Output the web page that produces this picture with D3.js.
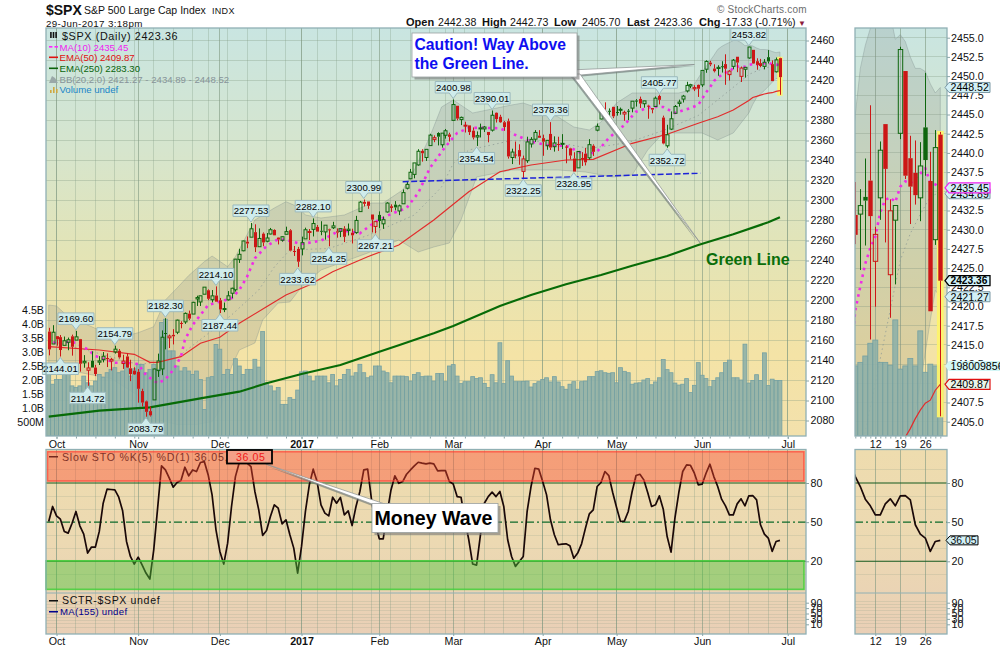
<!DOCTYPE html>
<html><head><meta charset="utf-8">
<script src="https://cdnjs.cloudflare.com/ajax/libs/d3/7.8.5/d3.min.js"></script>
<style>
html,body{margin:0;padding:0;background:#fff}
svg{display:block}
text{font-family:"Liberation Sans",Arial,sans-serif}
.axis text{font-size:10.7px;fill:#111}
.tick line{stroke:#8aa6a8}
</style></head><body><svg id="c" width="1000" height="650"></svg>
<script>
// session index: 0 = 3 Oct 2016, -2 = 29 Sep 2016, 186 = 29 Jun 2017
const firstIndex = -2;
const priorClose = 2171.37;
const openP = [2168.9,2156.51,2164.33,2163.37,2155.15,2158.22,2164.19,2160.39,2161.35,2137.67,2130.26,2139.68,2132.95,2138.31,2140.81,2142.51,2139.43,2148.5,2149.72,2136.97,2144.06,2132.23,2129.78,
2128.68,2109.43,2099.12,2089.36,2100.59,2129.92,2131.56,2167.49,2162.71,2165.64,2168.29,2177.53,2178.61,2186.85,2186.43,2201.56,2198.55,2206.27,2210.21,2200.76,2204.97,
2200.17,2191.12,2200.65,2207.26,2210.72,2241.13,2249.73,2258.83,2263.32,2268.35,2253.77,2266.81,2259.24,2266.5,2270.54,2262.93,2260.25,2266.23,2270.23,2249.5,2251.61,
2251.57,2261.6,2268.18,2271.14,2273.59,2269.72,2268.6,2271.14,2272.74,2269.14,2269.14,2271.9,2269.96,2267.78,2267.88,2288.88,2298.63,2299.02,2286.01,2274.02,
2285.59,2276.69,2288.54,2294.28,2295.87,2289.55,2296.7,2312.27,2321.72,2326.12,2335.58,2349.64,2343.01,2354.91,2361.11,2367.5,2355.73,2365.23,2366.08,
2380.13,2394.75,2380.92,2375.23,2375.12,2369.81,2363.49,2371.56,2371.56,2368.55,2370.34,2387.71,2383.71,2378.24,2379.32,2343,2345.97,2350.42,2329.11,2339.79,2356.54,2361.31,2364.82,
2362.34,2354.76,2366.59,2353.79,2356.59,2357.16,2353.92,2352.15,2341.98,2332.62,2342.53,2346.79,2342.69,2354.74,2370.33,2381.51,2388.98,2389.7,2393.68,
2388.5,2391.05,2386.5,2389.79,2392.37,2399.94,2401.58,2396.79,2394.84,2392.44,2393.98,2404.55,2382.95,2354.69,2371.37,2387.21,2397.04,2401.41,2409.54,2414.5,2411.67,2415.63,
2415.65,2431.28,2437.83,2431.92,2432.03,2434.27,2436.39,2425.88,2434.15,2443.75,2424.14,2431.24,2442.55,2450.66,2439.31,2437.4,2434.15,2443.32,2436.34,2428.7,2442.38];
const highP = [2172.67,2175.3,2164.41,2165.46,2163.95,2162.93,2165.86,2169.6,2161.56,2145.36,2138.19,2149.19,2135.61,2144.38,2148.44,2147.18,2142.63,2154.79,2151.44,2145.73,2147.13,2140.72,2133.25,
2131.45,2111.76,2099.86,2094.09,2132,2146.87,2170.1,2182.3,2165.92,2171.36,2180.84,2179.22,2188.06,2189.89,2198.7,2204.8,2204.72,2213.35,2211.14,2210.46,2214.1,
2202.6,2197.95,2209.42,2212.78,2241.63,2251.69,2259.8,2264.03,2277.53,2276.2,2272.12,2268.05,2267.47,2272.56,2271.23,2263.18,2263.36,2273.82,2271.31,2254.51,2253.58,
2263.88,2272.82,2271.5,2282.1,2275.49,2279.27,2275.32,2271.78,2278.68,2272.08,2272.01,2274.33,2276.96,2271.78,2284.63,2299.55,2300.99,2299.02,2286.01,2279.09,
2289.14,2283.97,2298.31,2296.18,2299.4,2295.91,2311.08,2319.23,2331.58,2337.58,2351.3,2351.31,2351.16,2366.71,2365.13,2368.26,2367.34,2371.54,2367.79,
2400.98,2394.75,2383.89,2378.8,2375.12,2373.09,2369.08,2376.86,2374.42,2368.55,2390.01,2388.1,2385.71,2379.55,2381.93,2351.81,2358.92,2356.22,2344.9,2363.78,2363.36,2370.42,2370.35,
2365.87,2360.53,2378.36,2364.16,2363.76,2366.37,2355.22,2352.72,2348.26,2349.14,2348.35,2352.63,2361.37,2356.18,2376.98,2392.48,2398.16,2392.1,2393.68,
2394.49,2392.93,2389.82,2391.43,2399.29,2401.36,2403.87,2399.74,2395.72,2392.44,2404.05,2405.77,2384.87,2375.74,2389.06,2395.46,2400.85,2405.58,2418.71,2416.68,2415.26,2415.99,
2430.06,2440.23,2439.55,2436.21,2435.28,2439.27,2446.2,2430.38,2441.49,2443.75,2433.95,2433.15,2453.82,2450.66,2442.23,2441.62,2441.4,2450.42,2440.15,2442.97,2442.73];
const lowP = [2145.2,2156.51,2154.77,2144.01,2155.15,2150.28,2144.85,2160.39,2128.84,2132.77,2114.72,2132.98,2124.43,2135.49,2138.15,2133.44,2130.09,2146.91,2141.93,2131.59,2132.52,2119.36,2125.53,
2097.85,2094,2083.79,2084,2100.59,2123.56,2125.35,2151.17,2152.49,2156.08,2166.38,2172.2,2176.65,2180.38,2186.43,2194.51,2194.51,2206.27,2200.36,2198.15,2198.81,
2187.44,2188.37,2199.97,2202.21,2208.93,2237.57,2249.23,2252.37,2263.32,2248.44,2253.77,2254.24,2258.21,2266.14,2265.15,2256.08,2258.84,2266.15,2249.11,2244.56,2233.62,
2245.13,2261.6,2260.45,2264.06,2268.9,2265.27,2260.83,2254.25,2271.51,2262.81,2263.35,2258.41,2265.01,2257.02,2266.68,2288.88,2294.08,2291.62,2268.04,2267.21,
2272.44,2271.65,2287.88,2288.57,2290.16,2285.38,2296.61,2311.1,2321.42,2322.17,2334.81,2338.87,2339.58,2354.91,2358.34,2355.09,2352.87,2361.87,2358.96,
2380.13,2380.17,2375.39,2367.98,2365.51,2361.01,2354.54,2363.04,2368.52,2358.18,2368.94,2377.94,2377.64,2369.66,2341.9,2336.45,2342.13,2335.74,2322.25,2337.63,2352.94,2358.58,2362.6,
2344.73,2350.72,2350.52,2348.9,2349.61,2351.5,2337.25,2341.18,2328.95,2332.51,2334.54,2335.05,2340.91,2344.51,2369.19,2381.15,2386.78,2382.68,2382.36,
2384.83,2385.82,2379.75,2380.35,2388.2,2393.92,2392.44,2392.79,2381.74,2387.19,2393.94,2396.05,2356.21,2352.72,2370.43,2386.92,2393.88,2397.99,2408.01,2412.2,2409.43,2403.59,
2413.54,2427.71,2434.32,2428.12,2424.75,2427.94,2415.7,2419.97,2431.28,2428.34,2418.53,2422.88,2441.79,2436.6,2430.74,2433.27,2431.11,2437.03,2419.38,2428.02,2405.7];
const closeP = [2151.13,2168.27,2161.2,2150.49,2159.73,2160.77,2153.74,2163.66,2136.73,2139.18,2132.55,2132.98,2126.5,2139.6,2144.29,2141.34,2141.16,2151.33,2143.16,2139.43,2133.04,2126.41,2126.15,
2111.72,2097.94,2088.66,2085.18,2131.52,2139.56,2163.26,2167.48,2164.45,2164.2,2180.39,2176.94,2187.12,2181.9,2198.18,2202.94,2204.72,2213.35,2201.72,2204.66,2198.81,
2191.08,2191.95,2204.71,2212.23,2241.35,2246.19,2259.53,2256.96,2271.72,2253.28,2262.03,2258.07,2262.53,2270.76,2265.18,2260.96,2263.79,2268.88,2249.92,2249.26,2238.83,
2257.83,2270.75,2269,2276.98,2268.9,2268.9,2275.32,2270.44,2274.64,2267.89,2271.89,2263.69,2271.31,2265.2,2280.07,2298.37,2296.68,2294.69,2280.9,2278.87,
2279.55,2280.85,2297.42,2292.56,2293.08,2294.67,2307.87,2316.1,2328.25,2337.58,2349.25,2347.22,2351.16,2365.38,2362.82,2363.81,2367.34,2369.75,2363.64,
2395.96,2381.92,2383.12,2375.31,2368.39,2362.98,2364.87,2372.6,2373.47,2365.45,2385.26,2381.38,2378.25,2373.47,2344.02,2348.45,2345.96,2343.98,2341.59,2358.57,2361.13,2368.06,2362.72,
2358.84,2360.16,2352.95,2357.49,2355.54,2357.16,2353.78,2344.93,2328.95,2349.01,2342.19,2338.17,2355.84,2348.69,2374.15,2388.61,2387.45,2388.77,2384.2,
2388.33,2391.17,2388.13,2389.52,2399.29,2399.38,2396.92,2399.63,2394.44,2390.9,2402.32,2400.67,2357.03,2365.72,2381.73,2394.02,2398.42,2404.39,2415.07,2415.82,2412.91,2411.8,
2430.06,2439.07,2436.1,2429.33,2433.14,2433.79,2431.77,2429.39,2440.35,2437.92,2432.46,2433.15,2453.46,2437.03,2435.61,2434.5,2438.3,2439.07,2419.38,2440.69,2423.36];
// volume in billions of shares
const volumeB = [2.20,1.85,2.02,2.02,2.30,2.50,1.79,1.73,1.79,2.14,1.90,1.79,1.96,2.20,2.10,2.26,2.38,2.44,2.26,2.32,2.62,2.14,2.40,2.56,2.56,2.26,2.38,2.56,2.38,4.05,4.17,3.04,3.04,2.50,2.32,2.44,2.32,2.20,2.32,2.02,0.95,2.08,2.12,3.27,3.10,2.20,2.38,2.20,2.76,2.50,2.20,2.38,2.38,2.74,2.46,3.73,1.90,1.79,1.61,1.73,1.13,1.13,1.37,1.31,1.64,2.29,2.32,2.14,1.96,2.14,2.14,2.14,1.90,2.20,1.79,2.02,2.20,2.38,2.14,2.26,2.56,2.26,2.08,2.14,2.50,2.50,2.32,2.26,1.90,2.14,2.14,
2.14,2.12,1.96,2.20,2.26,2.12,2.14,2.14,1.96,2.23,2.23,1.94,2.50,2.55,2.14,1.87,1.94,1.94,2.12,2.05,2.08,1.88,1.73,2.19,1.90,3.33,1.87,2.69,2.14,1.94,1.94,1.95,1.96,1.75,1.87,1.94,2.02,2.08,1.93,2.12,1.93,1.76,1.67,1.85,1.94,1.67,1.94,1.96,2.12,2.12,2.30,2.33,2.26,2.24,2.26,1.90,2.44,2.31,2.26,1.85,1.89,1.90,2.00,2.05,1.83,1.93,2.08,2.73,2.37,2.26,1.89,1.82,1.85,2.05,1.55,1.81,2.62,2.17,2.05,1.76,
1.98,2.08,2.26,2.62,2.71,2.08,2.08,2.00,3.28,1.89,1.98,2.19,1.98,2.97,1.80,2.03,1.98,1.98];
// Slow stochastic %K, one value per session
const stochK = [50.5,62,54.8,52.3,42.9,41.6,49.2,58.2,47.2,40.8,26.3,30.9,30.9,42.9,64.5,75.3,75,74.7,69.1,58.7,35.2,23.7,17.9,23.2,17.3,11,6.4,28.8,60.7,93.1,90,83.7,76.8,80.4,81.9,92.1,85.5,90,88.8,95.7,96.4,86.2,70.9,44.1,27.6,17.9,33.9,62,84.9,95.7,97.2,95.2,92.6,73.5,59.4,39.8,43.6,54.3,63.3,60.7,48.7,51.8,40.3,30.1,11,31.4,58.2,78.6,90.6,81.1,63.3,56.9,54.8,69.1,64.5,68.9,55.6,58.7,47.4,62,73.5,90,90.6,67.1,48,37.2,37.2,56.9,74.7,85.5,79.8,81.1,86.7,90,93.1,95.9,95.2,94.6,95.2,94.6,89.3,89.5,89.5,81.1,79.3,69.6,69.1,51.8,36.5,17.9,17.1,40.3,64.5,69.6,73,69.6,73.5,
62,36.5,23.7,16.1,19.9,23.7,58.2,77.3,91.3,90.6,81.1,70.9,51.8,40.3,32.7,33.2,33.4,31.9,22.4,26.3,33.4,45.4,56.4,59.4,77.3,80.4,88.8,85.7,72.7,61.2,50.5,50.8,58.2,73.5,85.7,86.7,82.4,72.7,62,63.3,70.2,59.9,39,27,53.1,72.7,88.8,93.9,93.6,87.5,78.6,79.1,87.5,94.4,84.9,77.3,67.6,62.5,55.6,55.6,64,67.9,62.5,70.2,70.4,67.1,48,40.8,37.8,27.6,35.2,36.05];
// overlays: session index, value
const ma10Idx = [-2,0,3,5,8,10,13,15,18,21,23,26,28,30,32,33,35,37,39,42,45,47,49,51,54,57,59,63,68,73,78,82,86,90,93,96,100,103,106,109,114,118,122,127,131,136,139,142,146,149,153,156,159,163,165,167,168,169,170,171,172,173,174,175,176,177,178,179,180,181,182,183,184,185,186];
const ma10Val = [2152.2,2159.8,2158.2,2157.8,2151.2,2144.5,2140.5,2137.8,2137.8,2136.5,2125.5,2117.2,2121.2,2130.5,2143.8,2160.5,2175.5,2185.5,2195.5,2198.8,2202.2,2210.5,2223.8,2242.2,2254.5,2261.2,2260.5,2256.5,2259.8,2270.5,2267.2,2278.8,2286.5,2292.5,2307.5,2332.5,2353.8,2367.5,2372.5,2372.8,2372.2,2365.5,2358.8,2354.8,2354.8,2345.5,2348.8,2362.5,2375.5,2388.8,2393.8,2393.5,2387.5,2392.5,2395.6,2408,2413,2419.5,2422.6,2425.6,2427.6,2429.1,2432.3,2433.9,2434.2,2433.6,2435.6,2436.3,2436,2436.7,2437.3,2438,2436.1,2435.9,2435.45];
const ema50Idx = [-2,11,20,24,26,32,37,42,47,54,59,65,71,80,88,97,106,114,122,131,138,148,157,165,170,174,178,179,180,181,182,183,184,185,186];
const ema50Val = [2153.8,2150.5,2146.2,2138.2,2138.2,2143.8,2157.2,2163.2,2177.2,2193.8,2205.5,2215.5,2228.8,2243.8,2255.5,2280.5,2308.8,2328.8,2335.5,2340.5,2341.2,2357.2,2366.2,2377.2,2383.8,2390.5,2400,2403,2404.1,2405.4,2406.5,2407.4,2407.8,2409.1,2409.87];
const ema250Idx = [-2,11,24,37,47,54,63,73,83,88,97,102,114,122,131,140,148,157,165,174,183,186];
const ema250Val = [2083.8,2089.8,2093.2,2102.2,2108.8,2117.2,2126.5,2135.5,2148.8,2155.2,2167.2,2174.5,2194.5,2205.5,2216.2,2225.5,2234.8,2244.5,2255.5,2266.2,2278.2,2283.3];
const bbUpIdx = [-2,0,3,6,11,17,21,25,28,31,34,38,40,44,46,51,56,59,62,64,68,74,81,84,89,92,96,99,102,107,117,120,123,129,133,137,140,144,148,154,160,163,166,169,170,171,172,173,174,175,176,177,178,179,180,181,182,183,184,185,186];
const bbUpVal = [2195.5,2194.5,2183.8,2178.8,2170.5,2163.8,2167.8,2173.8,2200.5,2212.5,2225,2238.8,2244.5,2233.8,2243.8,2280.5,2292.5,2298.8,2293.8,2285.5,2282.5,2285.5,2297.5,2297.5,2310.5,2330.5,2363.8,2393.5,2400.5,2387.5,2395.5,2397.5,2393.5,2383.5,2373.5,2370.5,2378.5,2397.5,2407.5,2407.5,2407.5,2410.5,2428.5,2445,2451,2454,2456.2,2458,2460,2460,2458,2454.8,2455.4,2454.5,2452.5,2451,2451,2450.6,2449,2447.8,2448.52];
const bbLowIdx = [-2,6,14,21,25,31,36,40,42,45,47,51,53,57,60,63,68,73,80,88,93,97,101,104,108,117,129,136,143,148,152,156,160,166,170,174,178,179,180,182,183,184,185,186];
const bbLowVal = [2128,2128,2122,2105,2082,2076,2076,2078.8,2090.5,2133.8,2150.5,2157.5,2180.5,2197.5,2198.5,2213.5,2230.5,2237.5,2247.5,2260.5,2248.5,2253.5,2257.5,2280.5,2323.5,2330.5,2330.5,2328.5,2323.5,2325.5,2350.5,2367.5,2367.5,2367.5,2360.5,2367.5,2387.5,2396,2403,2410,2414,2418.2,2422.1,2421.27];
const bbMidIdx = [-2,10,21,30,40,45,52,56,60,70,80,92,99,102,106,117,129,137,147,156,165,173,178,180,182,184,186];
const bbMidVal = [2160,2148,2136,2140,2170,2185.5,2210.5,2233.5,2250.5,2252,2265,2285.5,2313.5,2337,2350.5,2360,2358,2352,2358,2370,2385,2410,2426,2429.5,2432,2434.3,2434.89];
// trend line drawn on the price panel
const trendIdx = [89,165.5];
const trendVal = [2318.8,2327.2];
// pivot labels: session index, value, side
const pivotIdx = [1,5,8,15,23,28,41,42,50,62,66,70,79,82,102,108,112,120,127,133,155,157,178];
const pivotVal = [2144.01,2169.60,2114.72,2154.79,2083.79,2182.30,2214.10,2187.44,2277.53,2233.62,2282.10,2254.25,2300.99,2267.21,2400.98,2354.54,2390.01,2322.25,2378.36,2328.95,2405.77,2352.72,2453.82];
const pivotSide = ["low","high","low","high","low","high","high","low","high","low","high","low","high","low","high","low","high","low","high","low","high","low","high"];
// axis ticks
const monthIdx = [0,21,42,63,83,102,125,144,166,188];
const monthLab = ["Oct","Nov","Dec","2017","Feb","Mar","Apr","May","Jun","Jul"];
const weekIdx = [0,5,10,15,20,25,30,35,39,44,49,54,59,63,67,72,76,81,86,91,96,100,105,110,115,120,125,130,134,139,144,149,154,159,164,168,173,178,183,188];
const zoomWeekIdx = [173,178,183];
const zoomWeekLab = ["12","19","26"];
const priceTicks = d3.range(2080,2461,20);
const zoomPriceTicks = d3.range(2405,2456,2.5);
const volTicks = [0.5,1,1.5,2,2.5,3,3.5,4,4.5];
const stochTicks = [20,50,80];
const sctrTicks = [10,30,50,70,90];

const bars = openP.map((o,k)=>({i:firstIndex+k,o,h:highP[k],l:lowP[k],c:closeP[k],v:volumeB[k],k:stochK[k],
  prev:k?closeP[k-1]:priorClose}));
[highP,lowP,closeP,volumeB,stochK].forEach(a=>{if(a.length!==bars.length) throw new Error("length "+a.length+" vs "+bars.length)});
const pairs=(a,b)=>{if(a.length!==b.length) throw new Error("pairs "+a.length+" vs "+b.length);return a.map((d,j)=>[d,b[j]])};

const svg=d3.select("#c");
const P={l:46,r:806,zl:855,zr:947,t:28,b:436,st:449.5,sm:593,sb:634};
const x=d3.scaleLinear().domain([-2.7,192.7]).range([P.l,P.r]);
const xz=d3.scaleLinear().domain([168.94,187.34]).range([P.zl,P.zr]);
const y=d3.scaleLinear().domain([2080,2460]).range([420.5,40.5]);
const yz=d3.scaleLinear().domain([2405,2455]).range([421.7,37.7]);
const yv=d3.scaleLinear().domain([0,4.5]).range([436,310]);
const yvz=d3.scaleLinear().domain([0,2]).range([436,365.2]);
const ys=d3.scaleLinear().domain([20,80]).range([561.3,483]);
const yc=d3.scaleLinear().domain([10,90]).range([624.3,602.7]);

const defs=svg.append("defs");
function grad(id,y1,y2,stops){const g=defs.append("linearGradient").attr("id",id).attr("gradientUnits","userSpaceOnUse")
  .attr("x1",0).attr("x2",0).attr("y1",y1).attr("y2",y2);
  stops.forEach(s=>g.append("stop").attr("offset",s[0]).attr("stop-color",s[1]));}
grad("gm",P.t,P.b,[[0,"#c9e5e1"],[.3,"#d6e5cd"],[.55,"#e3e4b6"],[.8,"#f4e3a6"],[1,"#f3e1ac"]]);
grad("gs",P.st,P.sb,[[0,"#eedcae"],[.5,"#ecd9b2"],[1,"#e9cfb6"]]);
function clip(id,x0,y0,w,h){defs.append("clipPath").attr("id",id).append("rect").attr("x",x0).attr("y",y0).attr("width",w).attr("height",h);}
clip("cm",P.l,P.t,P.r-P.l,P.b-P.t);clip("cz",P.zl,P.t,P.zr-P.zl,P.b-P.t);
clip("sm",P.l,P.st,P.r-P.l,P.sm-P.st);clip("sz",P.zl,P.st,P.zr-P.zl,P.sm-P.st);

const GRID="#7e9880";
function panelBg(x0,x1,y0,y1,f){svg.append("rect").attr("x",x0).attr("y",y0).attr("width",x1-x0).attr("height",y1-y0).attr("fill",f);}
function borders(x0,x1,y0,y1){svg.append("rect").attr("x",x0).attr("y",y0).attr("width",x1-x0).attr("height",y1-y0).attr("fill","none").attr("stroke","#90b0b4").attr("stroke-width",1.3);}
panelBg(P.l,P.r,P.t,P.b,"url(#gm)");panelBg(P.zl,P.zr,P.t,P.b,"url(#gm)");
panelBg(P.l,P.r,P.st,P.sb,"url(#gs)");panelBg(P.zl,P.zr,P.st,P.sb,"url(#gs)");

function vgrid(g,sx,wk,mo,y0,y1){
  g.selectAll(null).data(wk).join("line").attr("x1",sx).attr("x2",sx).attr("y1",y0).attr("y2",y1).attr("stroke",GRID).attr("stroke-opacity",.3).attr("shape-rendering","crispEdges");
  g.selectAll(null).data(mo).join("line").attr("x1",sx).attr("x2",sx).attr("y1",y0).attr("y2",y1).attr("stroke",GRID).attr("stroke-opacity",.6).attr("shape-rendering","crispEdges");
}
function hgrid(g,x0,x1,sy,t,o){g.selectAll(null).data(t).join("line").attr("x1",x0).attr("x2",x1).attr("y1",sy).attr("y2",sy).attr("stroke",GRID).attr("stroke-opacity",o).attr("shape-rendering","crispEdges");}

// ---------- price panels
function pricePanel(sx,sy,syv,clipId,x0,x1,w,ticks,mo,wk){
  const gg=svg.append("g");
  hgrid(gg,x0,x1,sy,ticks,.32);vgrid(gg,sx,wk,mo,P.t,P.b);
  const g=svg.append("g").attr("clip-path",`url(#${clipId})`);
  // Bollinger band
  const up=pairs(bbUpIdx,bbUpVal), lo=pairs(bbLowIdx,bbLowVal);
  const interp=(arr,i)=>{const b=d3.bisector(d=>d[0]).left(arr,i);if(b<=0)return arr[0][1];if(b>=arr.length)return arr[arr.length-1][1];
    const p=arr[b-1],n=arr[b];return n[0]===i?n[1]:p[1]+(n[1]-p[1])*(i-p[0])/(n[0]-p[0]);};
  const edge=[...new Set([...bbUpIdx,...bbLowIdx])].sort(d3.ascending);
  g.append("path").datum(edge).attr("fill","#7c8080").attr("fill-opacity",.2).attr("stroke","#7c8c8c").attr("stroke-opacity",.35)
    .attr("d",d3.area().x(d=>sx(d)).y0(d=>sy(interp(lo,d))).y1(d=>sy(interp(up,d))));
  g.append("path").datum(pairs(bbMidIdx,bbMidVal)).attr("fill","none").attr("stroke","#8e9a96").attr("stroke-opacity",.75).attr("stroke-width",1).attr("stroke-dasharray","1.5,3")
    .attr("d",d3.line().x(d=>sx(d[0])).y(d=>sy(d[1])));
  // volume
  const vw=w>4?5:(x(1)-x(0));
  g.selectAll(null).data(bars).join("rect").attr("x",d=>sx(d.i)-vw/2).attr("width",vw).attr("y",d=>syv(d.v)).attr("height",d=>syv(0)-syv(d.v))
    .attr("fill","#8fb0a7").attr("fill-opacity",.9).attr("stroke","#74a0a2").attr("stroke-width",.8);
  // highlight for last session
  const last=bars[bars.length-1];
  g.append("rect").attr("x",sx(last.i)-w/2-1.2).attr("width",w+2.4).attr("y",sy(last.h)-1).attr("height",sy(last.l)-sy(last.h)+2).attr("fill","#fdf36c").attr("fill-opacity",.95);
  // averages
  const line=d3.line().x(d=>sx(d[0])).y(d=>sy(d[1]));
  g.append("path").datum(pairs(ema250Idx,ema250Val)).attr("fill","none").attr("stroke","#076b07").attr("stroke-width",2.2).attr("d",line);
  g.append("path").datum(pairs(ema50Idx,ema50Val)).attr("fill","none").attr("stroke","#e22c2c").attr("stroke-width",1.2).attr("d",line);
  g.append("path").datum(pairs(ma10Idx,ma10Val)).attr("fill","none").attr("stroke","#f02ce6").attr("stroke-width",2.6).attr("stroke-dasharray","2.6,4.2").attr("d",line);
  // candles
  const col=d=>d.c<d.prev?"#cc1616":"#0e660e";
  const cg=g.selectAll(null).data(bars).join("g");
  cg.append("line").attr("x1",d=>Math.round(sx(d.i))+.5).attr("x2",d=>Math.round(sx(d.i))+.5).attr("y1",d=>sy(d.h)).attr("y2",d=>sy(Math.max(d.o,d.c))).attr("stroke",col).attr("stroke-width",1);
  cg.append("line").attr("x1",d=>Math.round(sx(d.i))+.5).attr("x2",d=>Math.round(sx(d.i))+.5).attr("y1",d=>sy(Math.min(d.o,d.c))).attr("y2",d=>sy(d.l)).attr("stroke",col).attr("stroke-width",1);
  cg.append("rect").attr("x",d=>Math.round(sx(d.i))+.5-w/2).attr("width",w).attr("y",d=>sy(Math.max(d.o,d.c))).attr("height",d=>Math.max(1,Math.abs(sy(d.o)-sy(d.c))))
    .attr("fill",d=>d.c<d.o?col(d):"none").attr("stroke",col).attr("stroke-width",d=>d.c<d.o?0:1);
}
pricePanel(x,y,yv,"cm",P.l,P.r,3,priceTicks,monthIdx,weekIdx);
pricePanel(xz,yz,yvz,"cz",P.zl,P.zr,4.4,zoomPriceTicks,zoomWeekIdx,[]);

// trend line
svg.append("path").datum(pairs(trendIdx,trendVal)).attr("fill","none").attr("stroke","#1c22d8").attr("stroke-width",1.5).attr("stroke-dasharray","6,2.5")
  .attr("d",d3.line().x(d=>x(d[0])).y(d=>y(d[1])));

// pivot labels
const pg=svg.append("g");
pivotVal.forEach((v,k)=>{
  const px=x(pivotIdx[k]),hi=pivotSide[k]==="high",py=y(v)+(hi?-1:1),s=hi?-1:1;
  const bw=36,bh=11.5,tip=5.5;
  const by=py+s*tip, ey=by+s*bh;
  const p=d3.path();
  p.moveTo(px-bw/2,by);p.lineTo(px-4,by);p.lineTo(px,py);p.lineTo(px+4,by);p.lineTo(px+bw/2,by);p.lineTo(px+bw/2,ey);p.lineTo(px-bw/2,ey);p.closePath();
  pg.append("path").attr("d",p.toString()).attr("fill","#cfecec").attr("stroke","#9cb9bd").attr("stroke-width",1);
  pg.append("text").attr("x",px).attr("y",(by+ey)/2+3.5).attr("text-anchor","middle").attr("font-size",9.6).attr("fill","#000").text(v.toFixed(2));
});

// ---------- oscillator panels
function stochPanel(sx,clipId,x0,x1,mo,wk,sctrRows){
  const gg=svg.append("g");
  vgrid(gg,sx,wk,mo,P.st,P.sb);
  hgrid(gg,x0,x1,ys,d3.range(10,100,10).filter(d=>d!==20&&d!==50&&d!==80),.18);
  hgrid(gg,x0,x1,yc,sctrRows,.18);
  svg.append("line").attr("x1",x0).attr("x2",x1).attr("y1",P.sm).attr("y2",P.sm).attr("stroke","#90b0b4").attr("stroke-width",1);
  [80,20].forEach(v=>svg.append("line").attr("x1",x0).attr("x2",x1).attr("y1",ys(v)).attr("y2",ys(v)).attr("stroke","#145a1e").attr("stroke-width",1.1));
  svg.append("line").attr("x1",x0).attr("x2",x1).attr("y1",ys(50)).attr("y2",ys(50)).attr("stroke","#0c6a2a").attr("stroke-width",1.2).attr("stroke-dasharray","8,3,2,3");
  svg.append("g").attr("clip-path",`url(#${clipId})`).append("path").datum(bars).attr("fill","none").attr("stroke","#1a0808").attr("stroke-width",1.7).attr("stroke-linejoin","round")
    .attr("d",d3.line().x(d=>sx(d.i)).y(d=>ys(d.k)));
}
stochPanel(x,"sm",P.l,P.r,monthIdx,weekIdx,d3.range(0,100,12));
stochPanel(xz,"sz",P.zl,P.zr,zoomWeekIdx,[],d3.range(0,100,12));

function txt(t,x0,y0,o={}){const e=svg.append("text").attr("x",x0).attr("y",y0).attr("font-size",o.s||11).attr("fill",o.f||"#111").text(t);
  if(o.b)e.attr("font-weight","bold");if(o.ls)e.attr("letter-spacing",o.ls);if(o.a)e.attr("text-anchor",o.a);if(o.ff)e.style("font-family",o.ff);return e;}

// oscillator legends sit under the zone boxes
svg.append("rect").attr("x",49).attr("y",456).attr("width",9).attr("height",1.5).attr("fill","#111");
txt("Slow STO %K(5) %D(1) 36.05,",62,461,{s:10.6,ls:.78,f:"#222"});
svg.append("rect").attr("x",49).attr("y",600).attr("width",9).attr("height",1.5).attr("fill","#111");
txt("SCTR-$SPX undef",62,604,{s:10.6,ls:.62,f:"#111"});
svg.append("rect").attr("x",49).attr("y",611).attr("width",9).attr("height",1.5).attr("fill","#00008c");
txt("MA(155) undef",60,615,{s:9.6,ls:.3,f:"#00008c"});

// zones over the oscillator
svg.append("rect").attr("x",47.5).attr("y",ys(104)).attr("width",756.5).attr("height",ys(81.5)-ys(104))
  .attr("fill","#ff4a30").attr("fill-opacity",.42).attr("stroke","#ff3c30").attr("stroke-opacity",.7).attr("stroke-width",1.6);
svg.append("rect").attr("x",46).attr("y",ys(20.4)).attr("width",758).attr("height",ys(-1.5)-ys(20.4))
  .attr("fill","#4ec63c").attr("fill-opacity",.45).attr("stroke","#42d038").attr("stroke-opacity",.85).attr("stroke-width",1.6);

borders(P.l,P.r,P.t,P.b);borders(P.zl,P.zr,P.t,P.b);borders(P.l,P.r,P.st,P.sb);borders(P.zl,P.zr,P.st,P.sb);

// ---------- axes
function axis(gen,tx,ty){const a=svg.append("g").attr("class","axis").attr("transform",`translate(${tx},${ty})`).call(gen);a.select(".domain").remove();a.selectAll(".tick line").attr("stroke","#8aa6a8");return a;}
axis(d3.axisRight(y).tickValues(priceTicks).tickSize(3).tickPadding(1.5).tickFormat(d3.format("d")),P.r,0);
axis(d3.axisRight(yz).tickValues(zoomPriceTicks).tickSize(3).tickPadding(1).tickFormat(d3.format(".1f")),P.zr,0);
axis(d3.axisLeft(yv).tickValues(volTicks).tickSize(0).tickPadding(2).tickFormat(v=>v<1?"500M":v.toFixed(1)+"B"),P.l,0);
axis(d3.axisRight(ys).tickValues(stochTicks).tickSize(3).tickPadding(1.5).tickFormat(d3.format("d")),P.r,0);
axis(d3.axisRight(ys).tickValues(stochTicks).tickSize(3).tickPadding(1.5).tickFormat(d3.format("d")),P.zr,0);
axis(d3.axisRight(yc).tickValues(sctrTicks).tickSize(3).tickPadding(1.5).tickFormat(d3.format("d")),P.r,0);
axis(d3.axisRight(yc).tickValues(sctrTicks).tickSize(3).tickPadding(1.5).tickFormat(d3.format("d")),P.zr,0);
function timeAxis(sx,vals,labs,ty){
  const a=axis(d3.axisBottom(sx).tickValues(vals).tickSize(2).tickPadding(1).tickFormat((d,j)=>labs[j]),0,ty);
  a.selectAll("text").attr("font-weight",t=>t===63?"bold":null);
}
timeAxis(x,monthIdx,monthLab,437);timeAxis(x,monthIdx,monthLab,634);
timeAxis(xz,zoomWeekIdx,zoomWeekLab,437);timeAxis(xz,zoomWeekIdx,zoomWeekLab,634);
// unlabelled session and week marks under the panels
axis(d3.axisBottom(xz).tickValues(d3.range(169,187)).tickSize(2).tickFormat(""),0,436.5);
axis(d3.axisBottom(x).tickValues(weekIdx).tickSize(2).tickFormat(""),0,436.5);

// ---------- titles
txt("$SPX",46,14.5,{s:14,b:1,f:"#111"});
txt("S&P 500 Large Cap Index",84,14,{s:10.5,f:"#111"});
txt("INDX",212,14,{s:9,f:"#111",ls:.3});
txt("29-Jun-2017 3:18pm",46,27,{s:9.8,ls:.35});
txt("© StockCharts.com",717,13,{s:10,f:"#6d6d6d",ls:.2});
[["Open",406,1],["2442.38",438,0],["High",482,1],["2442.73",510,0],["Low",554,1],["2405.70",582,0],["Last",627,1],["2423.36",654,0],["Chg",699,1],["-17.33 (-0.71%)",722,0]]
 .forEach(d=>txt(d[0],d[1],26,{s:d[2]?11:10.6,b:d[2]}));
txt("▼",798,26,{s:8,f:"#8c1c3c"});

// price legend
[1,2,3].forEach(k=>svg.append("rect").attr("x",47.5+k*2.6).attr("y",32).attr("width",1.6).attr("height",6).attr("fill","#111"));
txt("$SPX (Daily) 2423.36",62,40,{s:10.8,ls:.62,f:"#111"});
[49,54.5].forEach(a=>svg.append("rect").attr("x",a).attr("y",46).attr("width",3.4).attr("height",1.6).attr("fill","#ff22ff"));
txt("MA(10) 2435.45",59.5,50.5,{s:9.6,f:"#f01cf0"});
svg.append("rect").attr("x",49).attr("y",56.5).attr("width",9).attr("height",1.6).attr("fill","#e01010");
txt("EMA(50) 2409.87",59.5,61,{s:9.6,f:"#e01010"});
svg.append("rect").attr("x",49).attr("y",67.5).attr("width",9).attr("height",1.6).attr("fill","#0a640a");
txt("EMA(250) 2283.30",59.5,72,{s:9.6,f:"#0a640a"});
svg.append("path").attr("d",d3.line()([[49,83],[52,76],[55,78],[58,83]])).attr("fill","#9aa8a8");
txt("BB(20,2.0) 2421.27 - 2434.89 - 2448.52",59.5,83,{s:9.6,f:"#87949a"});
[0,3,6].forEach((k,j)=>svg.append("rect").attr("x",50+k).attr("y",87+[3,0,2][j]).attr("width",1.6).attr("height",6-[3,0,2][j]).attr("fill","#d0a840"));
txt("Volume undef",59.5,93,{s:9.6,f:"#1a86c8"});

// ---------- callouts
function wedge(pts,shadowDx,shadowDy){
  svg.append("path").attr("d",d3.line()(pts.map(p=>[p[0]+shadowDx,p[1]+shadowDy]))+"Z").attr("fill","#6f7a78").attr("fill-opacity",.65);
  svg.append("path").attr("d",d3.line()(pts)+"Z").attr("fill","#fff").attr("stroke","#8a8f8f").attr("stroke-width",.7);
}
function callBox(x0,y0,w,h){
  svg.append("rect").attr("x",x0+2.5).attr("y",y0+2.5).attr("width",w).attr("height",h).attr("fill","#777").attr("fill-opacity",.6);
  svg.append("rect").attr("x",x0).attr("y",y0).attr("width",w).attr("height",h).attr("fill","#fff").attr("stroke","#9aa0a0").attr("stroke-width",.8);
}
wedge([[570,70],[570,76],[x(164),y(2436)]],1,1.6);
wedge([[571,74],[580,74],[x(165.5),y(2257.5)]],-1,1.6);
callBox(412,33,165,44);
txt("Caution! Way Above",414.5,50,{s:15.7,b:1,f:"#0e0ef0"});
txt("the Green Line.",414.5,69,{s:15.7,b:1,f:"#0e0ef0"});
txt("Green Line",706,265,{s:16,b:1,f:"#0a6e0a"});

wedge([[372,504],[385,504],[x(53.8),ys(94.5)]],0.5,2);
callBox(372,503.5,126,29);
txt("Money Wave",374.5,525,{s:19.6,b:1,f:"#000"});
svg.append("rect").attr("x",227).attr("y",450).attr("width",45).attr("height",13.5).attr("fill","#f4a088").attr("stroke","#000").attr("stroke-width",1.8);
txt("36.05",236,461,{s:10.6,ls:.6,f:"#f01818"});

// ---------- value tags on the zoom panel
function tag(v,ty,st,o={}){
  const x0=945,h=o.h||10,w=o.w||45;
  const p=d3.path();p.moveTo(x0,ty);p.lineTo(x0+4,ty-h/2);p.lineTo(x0+w,ty-h/2);p.lineTo(x0+w,ty+h/2);p.lineTo(x0+4,ty+h/2);p.closePath();
  svg.append("path").attr("d",p.toString()).attr("fill",o.fill||"#d2f0f6").attr("stroke",st).attr("stroke-width",o.sw||1);
  txt(v,x0+5.5,ty+3.8,{s:o.s||10.6,b:o.b,f:"#000"});
}
tag("2434.89",yz(2434.89)+1.6,"#7a98a4");
tag("2435.45",yz(2435.45),"#f020f0",{sw:1.2});
tag("2448.52",yz(2448.52),"#7a98a4");
tag("2421.27",yz(2421.27),"#7a98a4");
tag("2423.36",yz(2423.36),"#000",{b:1,sw:1.3,fill:"#d2f4fa",s:10.2});
tag("1980098560",yvz(1.98),"none",{w:56,fill:"#d2f6f6"});
tag("2409.87",yz(2409.87),"#e01010",{sw:1.2,fill:"#e8f4ea"});
const t0=ys(36.05);
{const p=d3.path();p.moveTo(946,t0);p.lineTo(950,t0-4.5);p.lineTo(978,t0-4.5);p.lineTo(978,t0+4.5);p.lineTo(950,t0+4.5);p.closePath();
 svg.append("path").attr("d",p.toString()).attr("fill","#d2f0f6").attr("stroke","#000");
 txt("36.05",950.5,t0+3.8,{s:10.4});}
</script></body></html>
